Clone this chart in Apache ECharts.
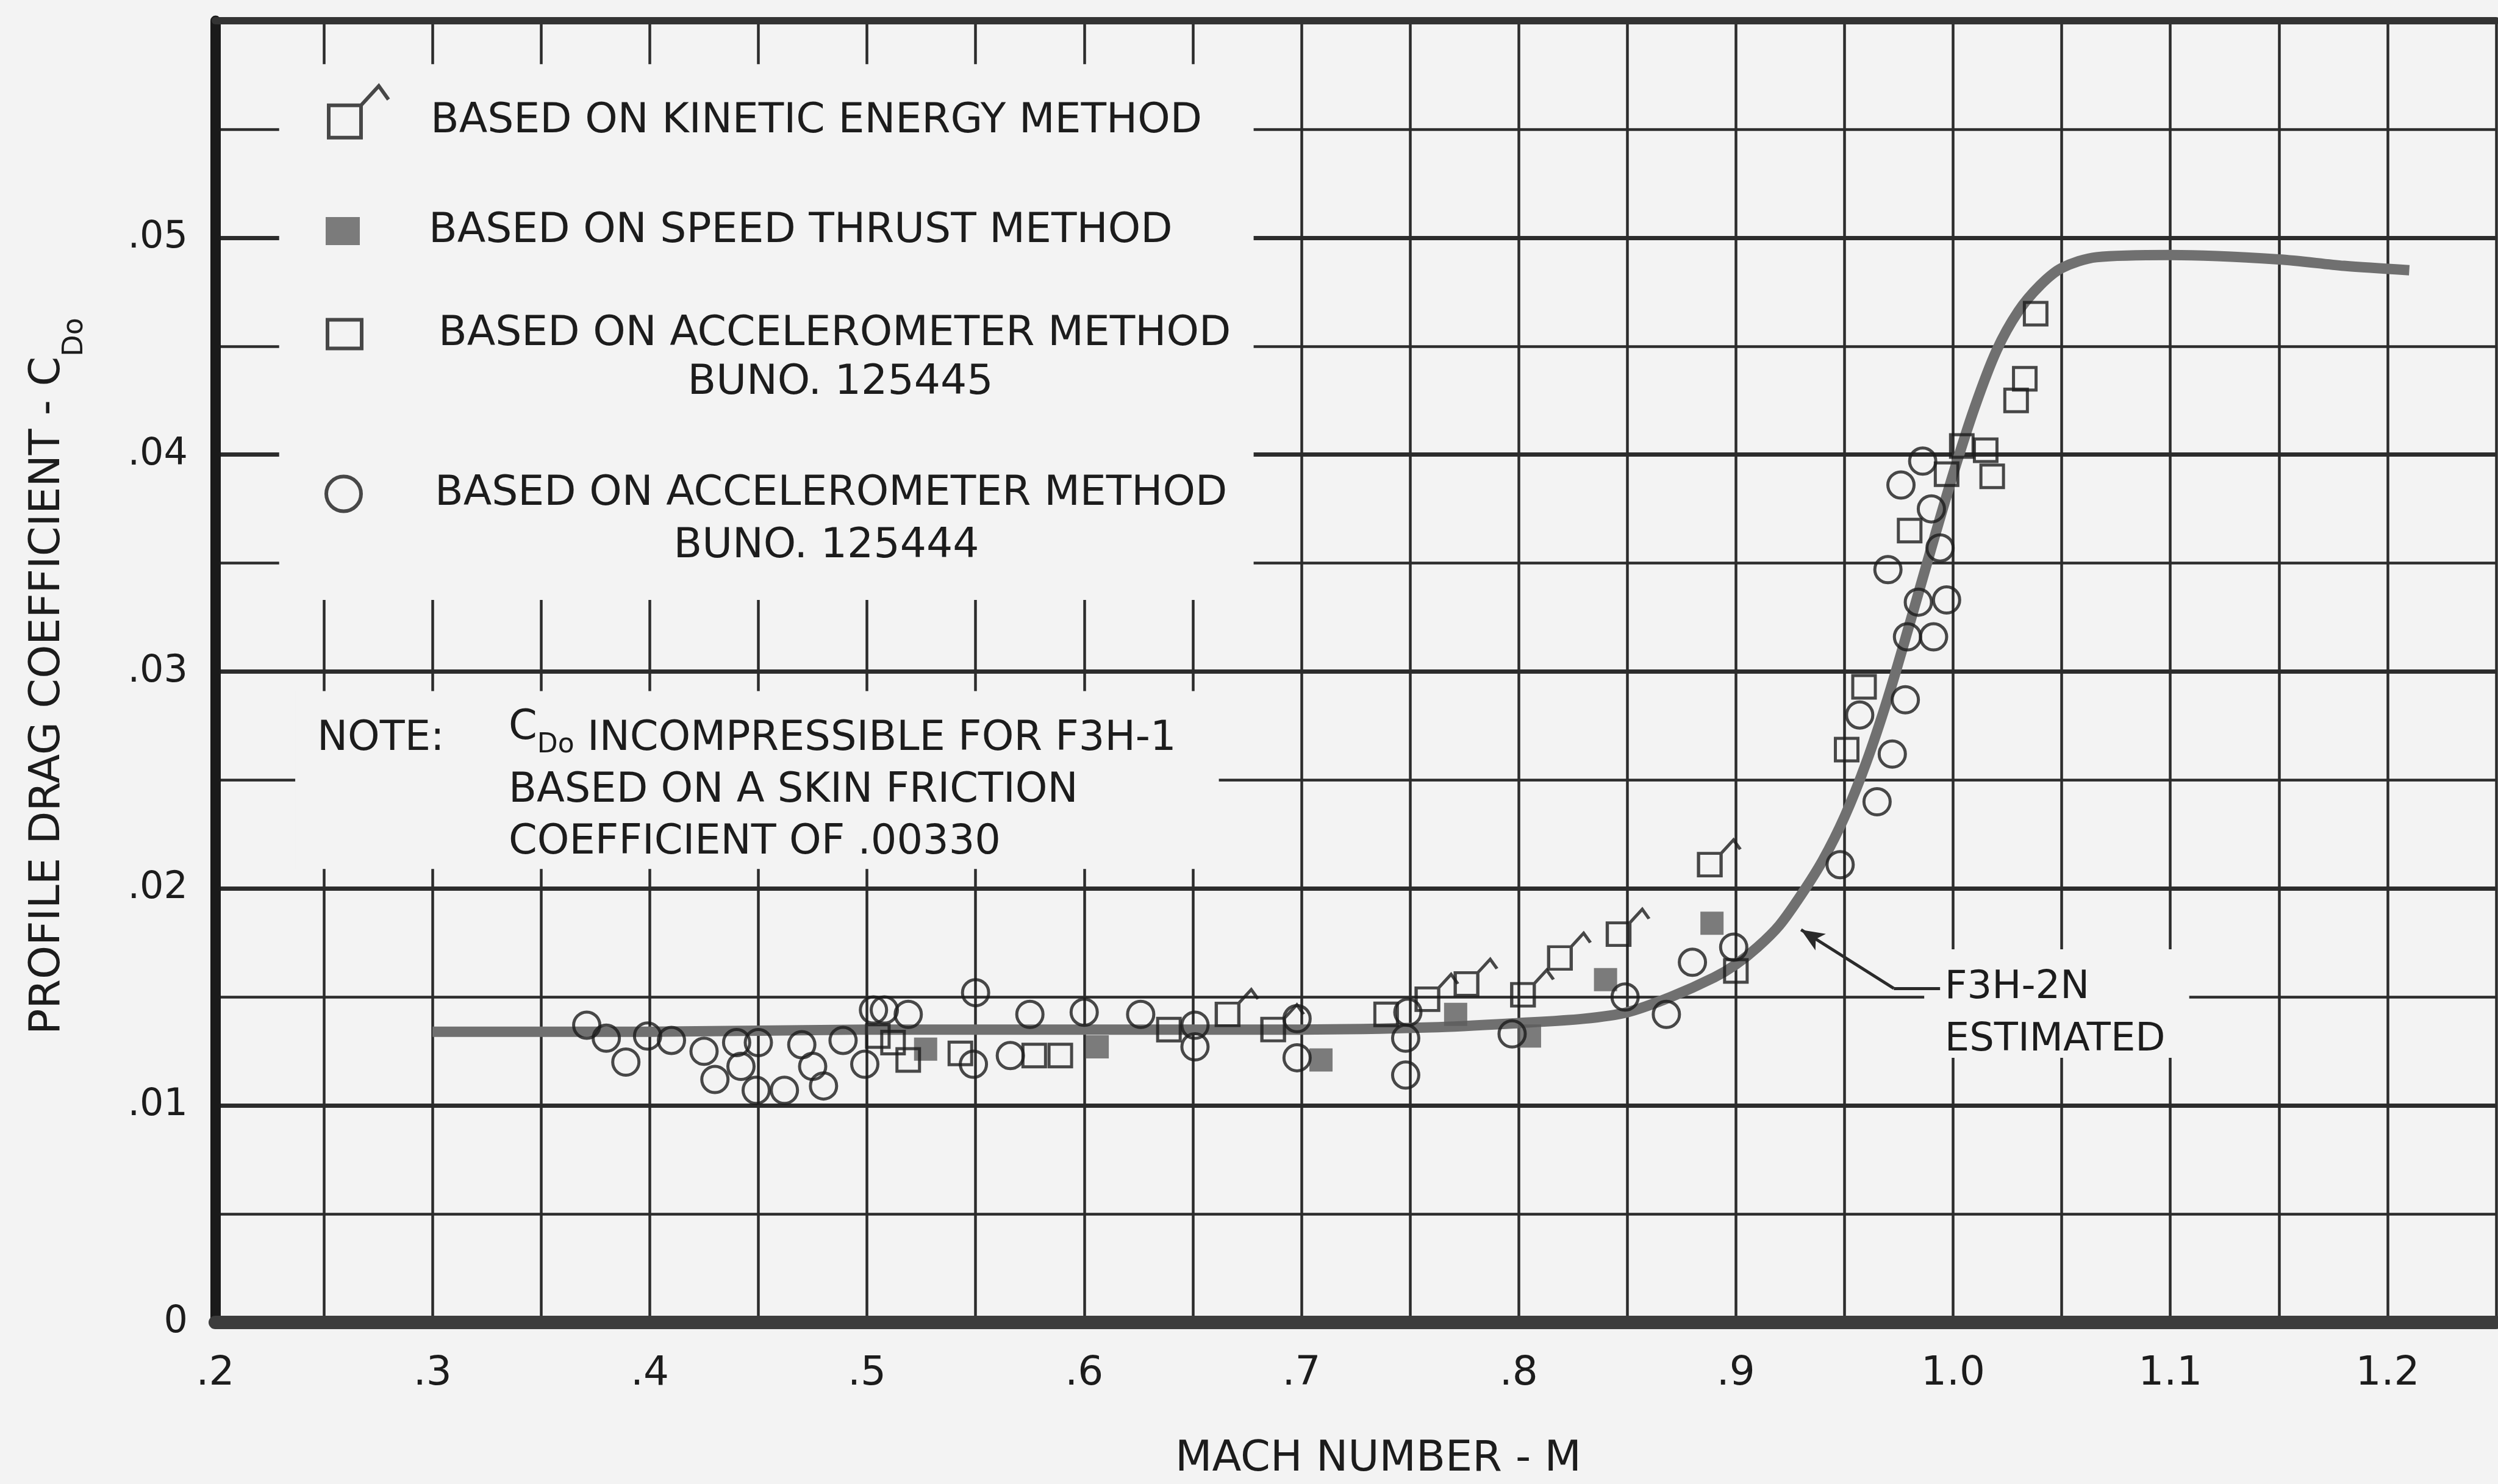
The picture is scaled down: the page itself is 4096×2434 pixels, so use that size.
<!DOCTYPE html>
<html>
<head>
<meta charset="utf-8">
<script src="https://cdn.jsdelivr.net/npm/echarts@6/dist/echarts.min.js"></script>
<style>html,body{margin:0;padding:0;background:#f3f3f3}#c{width:4096px;height:2434px}</style>
</head>
<body>
<div id="c"></div>
<script>
// ---------- data ----------
const xTickLabels = ['.2', '.3', '.4', '.5', '.6', '.7', '.8', '.9', '1.0', '1.1', '1.2'];
const yTickLabels = ['0', '.01', '.02', '.03', '.04', '.05'];

// F3H-2N estimated curve
const curveMach = [0.30, 0.40, 0.50, 0.60, 0.70, 0.76, 0.80, 0.83, 0.85, 0.87, 0.89, 0.90, 0.91, 0.92, 0.93, 0.94, 0.95, 0.96, 0.97, 0.98, 0.99, 1.00, 1.01, 1.02, 1.03, 1.04, 1.05, 1.066, 1.10, 1.15, 1.18, 1.21];
const curveCd   = [0.0134, 0.0134, 0.0135, 0.0135, 0.0135, 0.0136, 0.0138, 0.0140, 0.0143, 0.0150, 0.0159, 0.0165, 0.0173, 0.0183, 0.0197, 0.0213, 0.0233, 0.0258, 0.0288, 0.0322, 0.0357, 0.0391, 0.0422, 0.0448, 0.0466, 0.0478, 0.0486, 0.0491, 0.0492, 0.0490, 0.0487, 0.0485];

// kinetic energy method
const kineticMach = [0.666, 0.687, 0.758, 0.776, 0.802, 0.819, 0.846, 0.888];
const kineticCd   = [0.0142, 0.0135, 0.0149, 0.0156, 0.0151, 0.0168, 0.0179, 0.0211];

// speed thrust method
const speedMach = [0.527, 0.606, 0.709, 0.771, 0.805, 0.840, 0.889];
const speedCd   = [0.0126, 0.0127, 0.0121, 0.0142, 0.0132, 0.0158, 0.0184];

// accelerometer method BUNO 125445 (squares)
const acc445Mach = [0.505, 0.512, 0.519, 0.543, 0.577, 0.589, 0.639, 0.739, 0.900, 0.951, 0.959, 0.980, 0.997, 1.004, 1.015, 1.018, 1.029, 1.033, 1.038];
const acc445Cd   = [0.0132, 0.0129, 0.0121, 0.0124, 0.0123, 0.0123, 0.0135, 0.0142, 0.0162, 0.0264, 0.0293, 0.0365, 0.0391, 0.0404, 0.0402, 0.0390, 0.0425, 0.0435, 0.0465];

// accelerometer method BUNO 125444 (circles)
const acc444Mach = [0.371, 0.380, 0.389, 0.399, 0.410, 0.425, 0.430, 0.440, 0.442, 0.450, 0.449, 0.462, 0.470, 0.475, 0.480, 0.489, 0.499, 0.503, 0.508, 0.519, 0.549, 0.550, 0.566, 0.575, 0.600, 0.626, 0.651, 0.651, 0.698, 0.698, 0.749, 0.748, 0.748, 0.797, 0.849, 0.868, 0.880, 0.899, 0.948, 0.957, 0.965, 0.970, 0.972, 0.976, 0.978, 0.979, 0.984, 0.986, 0.990, 0.991, 0.994, 0.997];
const acc444Cd   = [0.0137, 0.0131, 0.0120, 0.0132, 0.0130, 0.0125, 0.0112, 0.0129, 0.0118, 0.0129, 0.0107, 0.0107, 0.0128, 0.0118, 0.0109, 0.0130, 0.0119, 0.0144, 0.0144, 0.0142, 0.0119, 0.0152, 0.0123, 0.0142, 0.0143, 0.0142, 0.0137, 0.0127, 0.0140, 0.0122, 0.0143, 0.0131, 0.0114, 0.0133, 0.0150, 0.0142, 0.0166, 0.0173, 0.0211, 0.0280, 0.0240, 0.0347, 0.0262, 0.0386, 0.0287, 0.0316, 0.0332, 0.0397, 0.0375, 0.0316, 0.0357, 0.0333];

const seriesNames = [
  'BASED ON KINETIC ENERGY METHOD',
  'BASED ON SPEED THRUST METHOD',
  'BASED ON ACCELEROMETER METHOD BUNO. 125445',
  'BASED ON ACCELEROMETER METHOD BUNO. 125444'
];

// ---------- layout / style ----------
const FONT = '"DejaVu Sans", sans-serif';
const BG = '#f3f3f3';
const INK = '#1c1c1c';
const GRID = '#2c2c2c';

const KIN_PATH = 'path://M0,6L10,6L10,16L0,16Z M10,6L15.5,0L18.5,4.2';
const KIN_LEGEND_PATH = 'path://M0,6L10,6L10,16L0,16Z M10,6L15.5,0L18.5,4.2 M0,22';
const KIN_K = 3.7;

// boxes that hide the grid behind the legend, note and label (data coords)
const maskBoxes = [
  [0.2294, 0.0333, 0.678, 0.0580],
  [0.2368, 0.0209, 0.662, 0.0291],
  [0.9867, 0.0122, 1.1087, 0.0172]
];
const leaderY = 0.0154, leaderCornerX = 0.9727, leaderEndX = 0.994;
const arrowTip = [0.930, 0.0181];
const labelAnchor = [0.996, 0.0142];

function pairs(xs, ys) { return xs.map((x, i) => [x, ys[i]]); }
function xLabel(v) {
  const k = Math.round((v - 0.2) * 20);
  if (k % 2 !== 0) return '';
  const s = xTickLabels[k / 2];
  return s === undefined ? '' : s;
}
function yLabel(v) {
  const k = Math.round(v * 200);
  if (k % 2 !== 0) return '';
  const s = yTickLabels[k / 2];
  return s === undefined ? '' : s;
}

const chart = echarts.init(document.getElementById('c'), null, {renderer: 'canvas', width: 4096, height: 2434});

const legendText = {fontFamily: FONT, fontSize: 68, color: INK};
const NOTE_FS = 67, NOTE_LH = 85;

const option = {
  backgroundColor: BG,
  animation: false,
  textStyle: {fontFamily: FONT},
  grid: {left: 353, top: 34, width: 3758, height: 2140, containLabel: false},
  title: [
    {text: 'NOTE:', left: 520, top: 1170, padding: 0,
     textStyle: {fontFamily: FONT, fontSize: NOTE_FS, fontWeight: 'normal', color: INK, lineHeight: NOTE_LH}},
    {text: '{c|C}{d|Do}{t| INCOMPRESSIBLE FOR F3H-1}\n{t|BASED ON A SKIN FRICTION}\n{t|COEFFICIENT OF .00330}',
     left: 834, top: 1170, padding: 0,
     textStyle: {fontFamily: FONT, fontSize: NOTE_FS, fontWeight: 'normal', color: INK, lineHeight: NOTE_LH,
       rich: {
         t: {fontFamily: FONT, fontSize: NOTE_FS, fontWeight: 'normal', color: INK, lineHeight: NOTE_LH},
         c: {fontFamily: FONT, fontSize: NOTE_FS, fontWeight: 'normal', color: INK, lineHeight: NOTE_LH, padding: [0, 0, 36, 0]},
         d: {fontFamily: FONT, fontSize: 44, fontWeight: 'normal', color: INK, lineHeight: NOTE_LH, padding: [20, 0, 0, 0]}
       }}}
  ],
  legend: [
    {data: [seriesNames[0]], left: 536, top: 138, padding: 0, selectedMode: false,
     icon: KIN_LEGEND_PATH, itemWidth: 98, itemHeight: 117, itemStyle: {borderWidth: 6},
     formatter: () => 'BASED ON KINETIC ENERGY METHOD',
     textStyle: Object.assign({padding: [0, 0, 0, 64]}, legendText)},
    {data: [seriesNames[1]], left: 534, top: 345, padding: 0, selectedMode: false,
     icon: 'rect', itemWidth: 56, itemHeight: 46,
     formatter: () => 'BASED ON SPEED THRUST METHOD',
     textStyle: Object.assign({padding: [0, 0, 0, 108]}, legendText)},
    {data: [seriesNames[2]], left: 534, top: 514, padding: 0, selectedMode: false,
     icon: 'rect', itemWidth: 56, itemHeight: 47, itemStyle: {borderWidth: 6},
     formatter: () => 'BASED ON ACCELEROMETER METHOD',
     textStyle: Object.assign({padding: [0, 0, 0, 121]}, legendText)},
    {data: [seriesNames[3]], left: 532, top: 776, padding: 0, selectedMode: false,
     icon: 'circle', itemWidth: 57, itemHeight: 57, itemStyle: {borderWidth: 6},
     formatter: () => 'BASED ON ACCELEROMETER METHOD',
     textStyle: Object.assign({padding: [0, 0, 0, 116]}, legendText)}
  ],
  graphic: [
    {type: 'text', x: 1378, y: 628, z: 100,
     style: {text: 'BUNO. 125445', fill: INK, fontSize: 68, fontFamily: FONT, align: 'center', verticalAlign: 'middle'}},
    {type: 'text', x: 1355, y: 896, z: 100,
     style: {text: 'BUNO. 125444', fill: INK, fontSize: 68, fontFamily: FONT, align: 'center', verticalAlign: 'middle'}}
  ],
  xAxis: [
    {type: 'value', min: 0.2, max: 1.25, interval: 0.05, position: 'bottom',
     axisLine: {show: true, onZero: false, lineStyle: {color: '#3c3c3c', width: 22}},
     axisTick: {show: false},
     axisLabel: {formatter: xLabel, fontSize: 66, color: INK, margin: 52, fontFamily: FONT},
     splitLine: {show: true, lineStyle: {color: GRID, width: 4.5}},
     name: 'MACH NUMBER - M', nameLocation: 'middle', nameGap: 190,
     nameTextStyle: {fontSize: 70, color: INK, fontFamily: FONT, padding: [0, 0, 0, 74]}},
    {type: 'value', min: 0.2, max: 1.25, interval: 0.05, position: 'top',
     axisLine: {show: true, onZero: false, lineStyle: {color: '#333333', width: 12}},
     axisTick: {show: false}, axisLabel: {show: false}, splitLine: {show: false}}
  ],
  yAxis: [
    {type: 'value', min: 0, max: 0.06, interval: 0.005, position: 'left',
     axisLine: {show: true, onZero: false, lineStyle: {color: '#1a1a1a', width: 17}},
     axisTick: {show: false},
     axisLabel: {formatter: yLabel, fontSize: 62, color: INK, margin: 45, fontFamily: FONT},
     splitLine: {show: true, lineStyle: {color: GRID, width: 4.5}},
     name: '{t|PROFILE DRAG COEFFICIENT - C}{d|Do}', nameLocation: 'middle', nameRotate: 90, nameGap: 232,
     nameTextStyle: {fontSize: 70, color: INK, fontFamily: FONT, lineHeight: 84, padding: [0, 15, 0, 0],
       rich: {
         t: {fontSize: 70, color: INK, fontFamily: FONT, lineHeight: 84},
         d: {fontSize: 46, color: INK, fontFamily: FONT, lineHeight: 84, padding: [88, 0, 0, 0]}
       }}},
    {type: 'value', min: 0, max: 0.06, interval: 0.01, position: 'left',
     axisLine: {show: false}, axisTick: {show: false}, axisLabel: {show: false},
     splitLine: {show: true, lineStyle: {color: GRID, width: 7}}}
  ],
  series: [
    {type: 'line', name: 'F3H-2N ESTIMATED', data: pairs(curveMach, curveCd), symbol: 'none',
     smooth: 0.3, silent: true, z: 2,
     lineStyle: {color: '#707070', width: 17, cap: 'butt'},
     markArea: {silent: true, itemStyle: {color: BG, opacity: 1, borderWidth: 0}, label: {show: false},
       data: maskBoxes.map(b => [{coord: [b[0], b[1]]}, {coord: [b[2], b[3]]}])},
     markLine: {silent: true, symbol: ['none', 'none'], label: {show: false},
       lineStyle: {color: '#2a2a2a', width: 5, type: 'solid'},
       data: [
         [{coord: [leaderEndX, leaderY]}, {coord: [leaderCornerX, leaderY]}],
         [{coord: [leaderCornerX, leaderY]}, {coord: arrowTip, symbol: 'arrow', symbolSize: [24, 38]}]
       ]},
     markPoint: {silent: true,
       data: [{coord: labelAnchor, symbol: 'rect', symbolSize: 1, itemStyle: {color: 'rgba(0,0,0,0)'},
         label: {show: true, position: 'right', distance: 0, formatter: 'F3H-2N\nESTIMATED', align: 'left',
           fontSize: 64, lineHeight: 86, color: INK, fontFamily: FONT}}]}},
    {type: 'scatter', name: seriesNames[0], data: pairs(kineticMach, kineticCd), z: 4,
     symbol: KIN_PATH, symbolSize: [18.5 * KIN_K, 16 * KIN_K], symbolOffset: [4.25 * KIN_K, -3 * KIN_K],
     itemStyle: {color: 'rgba(0,0,0,0)', borderColor: INK, borderWidth: 5}},
    {type: 'scatter', name: seriesNames[1], data: pairs(speedMach, speedCd), z: 4,
     symbol: 'rect', symbolSize: 38, itemStyle: {color: '#5c5c5c'}},
    {type: 'scatter', name: seriesNames[2], data: pairs(acc445Mach, acc445Cd), z: 4,
     symbol: 'rect', symbolSize: 37, itemStyle: {color: 'rgba(0,0,0,0)', borderColor: INK, borderWidth: 5}},
    {type: 'scatter', name: seriesNames[3], data: pairs(acc444Mach, acc444Cd), z: 4,
     symbol: 'circle', symbolSize: 43, itemStyle: {color: 'rgba(0,0,0,0)', borderColor: INK, borderWidth: 5}}
  ]
};
chart.setOption(option);
</script>
</body>
</html>
